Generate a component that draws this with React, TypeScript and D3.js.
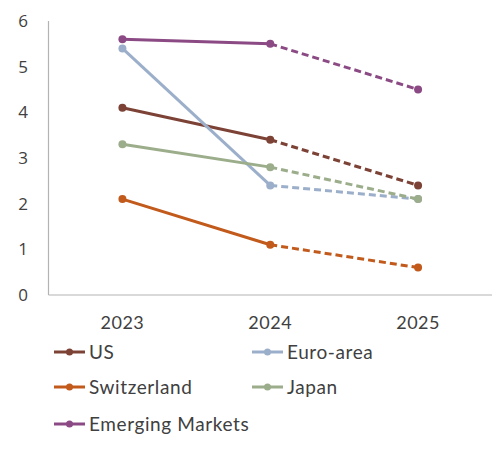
import React from "react";
import * as d3 from "d3";

const years = ["2023", "2024", "2025"];
const seriesNames = ["US", "Euro-area", "Switzerland", "Japan", "Emerging Markets"];
const usValues = [4.1, 3.4, 2.4];
const euroValues = [5.4, 2.4, 2.1];
const swissValues = [2.1, 1.1, 0.6];
const japanValues = [3.3, 2.8, 2.1];
const emValues = [5.6, 5.5, 4.5];
const seriesColors = ["#7d4236", "#9cafca", "#c25a1c", "#9bad8a", "#8b4a84"];
const yTicks = [0, 1, 2, 3, 4, 5, 6];

const allValues = [usValues, euroValues, swissValues, japanValues, emValues];

export default function App() {
  const W = 502, H = 449;
  const left = 48.5, right = 492, top = 21, bottom = 295;
  const x = d3.scaleBand<string>().domain(years).range([left, right]);
  const y = d3.scaleLinear().domain([0, 6]).range([bottom, top]);
  const cx = (yr: string) => (x(yr) as number) + x.bandwidth() / 2;
  const line = d3.line<[number, number]>().x((d) => d[0]).y((d) => d[1]);

  const legendPos = [
    [54, 352], [252, 352], [54, 387], [252, 387], [54, 424],
  ];

  return (
    <svg width={W} height={H} style={{ position: "absolute", left: 0, top: 0 }}>
      <line x1={left} x2={left} y1={top} y2={bottom} stroke="#b3b3b3" strokeWidth={1.2} />
      <line x1={left} x2={right} y1={bottom} y2={bottom} stroke="#b3b3b3" strokeWidth={1.2} />
      {yTicks.map((t) => (
        <text key={t} x={23} y={y(t)} dy="0.35em" textAnchor="middle"
          fontFamily="'Open Sans', sans-serif" fontSize={17} fill="#404040">{t}</text>
      ))}
      {years.map((yr) => (
        <text key={yr} x={cx(yr)} y={329} textAnchor="middle"
          fontFamily="Lato, sans-serif" fontSize={18} letterSpacing={0.5} fill="#404040">{yr}</text>
      ))}
      {allValues.map((vals, i) => {
        const pts: [number, number][] = vals.map((v, j) => [cx(years[j]), y(v)]);
        return (
          <g key={i}>
            <path d={line(pts.slice(0, 2)) || ""} fill="none" stroke={seriesColors[i]} strokeWidth={3} />
            <path d={line(pts.slice(1, 3)) || ""} fill="none" stroke={seriesColors[i]} strokeWidth={3}
              strokeDasharray="7 4" />
            {pts.map((p, j) => (
              <circle key={j} cx={p[0]} cy={p[1]} r={4} fill={seriesColors[i]} />
            ))}
          </g>
        );
      })}
      {seriesNames.map((name, i) => {
        const [lx, ly] = legendPos[i];
        return (
          <g key={name}>
            <line x1={lx} x2={lx + 31} y1={ly} y2={ly} stroke={seriesColors[i]} strokeWidth={3} />
            <circle cx={lx + 15.5} cy={ly} r={3.5} fill={seriesColors[i]} />
            <text x={lx + 35} y={ly} dy="0.35em" fontFamily="Lato, sans-serif" fontSize={19}
              letterSpacing={0.6} fill="#404040">{name}</text>
          </g>
        );
      })}
    </svg>
  );
}
